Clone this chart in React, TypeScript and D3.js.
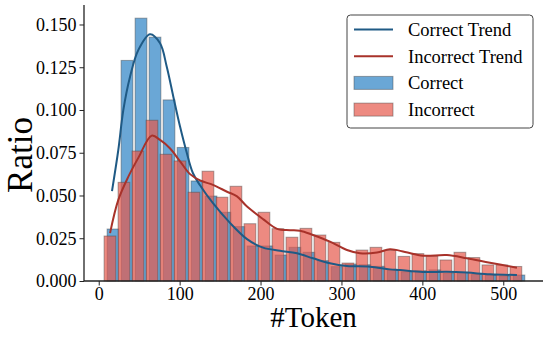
import React, { useEffect, useRef } from 'react';
import * as d3 from 'd3';

// histogram bins (token counts), same width for both groups
const correctBinStart = 9.0;
const incorrectBinStart = 5.25;
const binWidth = 17.3;

const correctRatio = [
  0.0304, 0.129, 0.1537, 0.1426, 0.1059, 0.0781, 0.0585, 0.0497, 0.0402, 0.0318,
  0.0205, 0.0205, 0.0152, 0.0197, 0.0168, 0.0119, 0.0084, 0.0099, 0.0095, 0.0086,
  0.0064, 0.0054, 0.006, 0.0065, 0.0045, 0.005, 0.0038, 0.0035, 0.003, 0.0035,
];
const incorrectRatio = [
  0.0263, 0.0577, 0.076, 0.094, 0.0741, 0.0702, 0.0519, 0.0642, 0.049, 0.0554,
  0.0335, 0.0402, 0.0306, 0.0256, 0.0308, 0.0269, 0.0226, 0.0105, 0.0181, 0.0197,
  0.018, 0.0144, 0.016, 0.0146, 0.0123, 0.0168, 0.0137, 0.0094, 0.0094, 0.0085,
];

// smoothed trend lines
const correctTrendX = [
  16.4, 24.2, 30.4, 38.7, 48.9, 63.4, 75.8, 84.0, 92.2, 100.5, 107.9, 116.5, 125.2,
  141.2, 162.2, 183.3, 203.1, 224.1, 245.1, 264.8, 285.8, 306.8, 335.2, 359.9,
  372.3, 400.7, 430.4, 455.1, 483.5, 516.9,
];
const correctTrendY = [
  0.0526, 0.0766, 0.1, 0.1195, 0.135, 0.1443, 0.139, 0.1254, 0.1078, 0.0903, 0.0766,
  0.063, 0.056, 0.0455, 0.034, 0.0245, 0.0195, 0.0177, 0.0162, 0.0133, 0.0104,
  0.0088, 0.0084, 0.0068, 0.0064, 0.0053, 0.0054, 0.0049, 0.0039, 0.0035,
];
const incorrectTrendX = [
  14.0, 24.2, 36.6, 48.9, 65.5, 75.8, 88.2, 100.5, 112.9, 125.2, 141.2, 158.6, 170.9,
  183.3, 203.1, 220.4, 236.4, 248.8, 264.8, 285.8, 306.8, 322.9, 343.9, 359.9,
  378.5, 400.7, 430.4, 455.1, 483.5, 516.9,
];
const incorrectTrendY = [
  0.028, 0.0474, 0.061, 0.072, 0.085, 0.0825, 0.0775, 0.07, 0.0625, 0.0588, 0.0562,
  0.0522, 0.0495, 0.0435, 0.0362, 0.0305, 0.0297, 0.0294, 0.0269, 0.023, 0.0181,
  0.0162, 0.0166, 0.0185, 0.017, 0.0148, 0.0152, 0.0133, 0.0107, 0.0078,
];

const xTicks = [0, 100, 200, 300, 400, 500];
const yTicks = [0, 0.025, 0.05, 0.075, 0.1, 0.125, 0.15];

const legendItems = [
  { label: 'Correct Trend', kind: 'line', color: '#1f5a85' },
  { label: 'Incorrect Trend', kind: 'line', color: '#a8322a' },
  { label: 'Correct', kind: 'patch', color: '#2b82c4' },
  { label: 'Incorrect', kind: 'patch', color: '#e6594b' },
];

const FONT = "'Liberation Serif', 'DejaVu Serif', serif";

export default function App() {
  const ref = useRef<SVGSVGElement>(null);

  useEffect(() => {
    const svg = d3.select(ref.current);
    svg.selectAll('*').remove();

    const margin = { top: 5, right: 5, bottom: 58, left: 84 };
    const width = 548 - margin.left - margin.right;
    const height = 339 - margin.top - margin.bottom;

    const x = d3.scaleLinear().domain([-18.2, 549.1]).range([0, width]);
    const y = d3.scaleLinear().domain([0, 0.1614]).range([height, 0]);

    const g = svg.append('g').attr('transform', `translate(${margin.left},${margin.top})`);

    const shrink = 0.84;
    const drawBars = (vals: number[], start: number, color: string) => {
      g.append('g')
        .selectAll('rect')
        .data(vals)
        .join('rect')
        .attr('x', (d, i) => x(start + binWidth * (i + 0.5 - shrink / 2)))
        .attr('width', x(binWidth * shrink) - x(0))
        .attr('y', (d) => y(d))
        .attr('height', (d) => y(0) - y(d))
        .attr('fill', color)
        .attr('fill-opacity', 0.7)
        .attr('stroke', '#444')
        .attr('stroke-opacity', 0.45)
        .attr('stroke-width', 1);
    };
    drawBars(correctRatio, correctBinStart, '#2b82c4');
    drawBars(incorrectRatio, incorrectBinStart, '#e6594b');

    const drawTrend = (xs: number[], ys: number[], color: string) => {
      const l = d3
        .line<number>()
        .x((d, i) => x(xs[i]))
        .y((d) => y(d))
        .curve(d3.curveCatmullRom.alpha(0.5));
      g.append('path')
        .attr('d', l(ys))
        .attr('fill', 'none')
        .attr('stroke', color)
        .attr('stroke-width', 2)
        .attr('stroke-linejoin', 'round');
    };
    drawTrend(correctTrendX, correctTrendY, '#1f5a85');
    drawTrend(incorrectTrendX, incorrectTrendY, '#a8322a');

    // axes
    const xAxis = g
      .append('g')
      .attr('transform', `translate(0,${height})`)
      .call(d3.axisBottom(x).tickValues(xTicks).tickSize(4.5).tickPadding(2).tickFormat(d3.format('d')));
    const yAxis = g
      .append('g')
      .call(d3.axisLeft(y).tickValues(yTicks).tickSize(4.5).tickPadding(3).tickFormat(d3.format('.3f')));
    [xAxis, yAxis].forEach((a) => {
      a.select('.domain').attr('stroke', '#222').attr('stroke-width', 1.3);
      a.selectAll('.tick line').attr('stroke', '#222').attr('stroke-width', 1);
      a.selectAll('.tick text')
        .attr('fill', '#000')
        .style('font-family', FONT)
        .style('font-size', '18px');
    });
    xAxis.select('.domain').attr('d', `M0,0H${width}`);
    yAxis.select('.domain').attr('d', `M0,0V${height}`);

    g.append('text')
      .attr('x', width / 2)
      .attr('y', height + 46)
      .attr('text-anchor', 'middle')
      .style('font-family', FONT)
      .style('font-size', '29px')
      .text('#Token');

    g.append('text')
      .attr('transform', `translate(${32 - margin.left},${155 - margin.top}) rotate(-90)`)
      .attr('text-anchor', 'middle')
      .style('font-family', FONT)
      .style('font-size', '35px')
      .text('Ratio');

    // legend
    const lg = svg.append('g').attr('transform', 'translate(347,15)');
    lg.append('rect')
      .attr('width', 186)
      .attr('height', 113)
      .attr('rx', 3.5)
      .attr('fill', '#fff')
      .attr('fill-opacity', 0.8)
      .attr('stroke', '#444')
      .attr('stroke-width', 1);
    legendItems.forEach((item, i) => {
      const cy = 14.5 + i * 26.7;
      if (item.kind === 'line') {
        lg.append('line')
          .attr('x1', 7)
          .attr('x2', 46)
          .attr('y1', cy)
          .attr('y2', cy)
          .attr('stroke', item.color)
          .attr('stroke-width', 2);
      } else {
        lg.append('rect')
          .attr('x', 7)
          .attr('y', cy - 6.5)
          .attr('width', 39)
          .attr('height', 13)
          .attr('fill', item.color)
          .attr('fill-opacity', 0.7)
          .attr('stroke', '#444')
          .attr('stroke-opacity', 0.45);
      }
      lg.append('text')
        .attr('x', 61)
        .attr('y', cy)
        .attr('dy', '0.35em')
        .style('font-family', FONT)
        .style('font-size', '18.5px')
        .text(item.label);
    });
  }, []);

  return (
    <div>
      <svg ref={ref} width={548} height={339} style={{ position: 'absolute', left: 0, top: 0 }} />
    </div>
  );
}
